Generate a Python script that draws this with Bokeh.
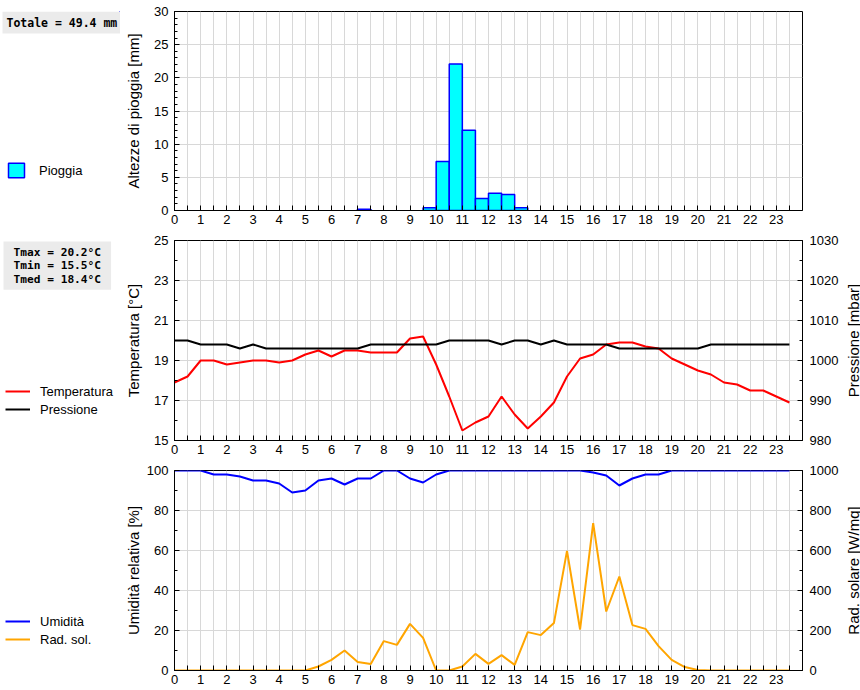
import math
from bokeh.plotting import figure
from bokeh.models import (Range1d, LinearAxis, FixedTicker, Label, Legend, LegendItem)
from bokeh.layouts import column, row
from bokeh.embed import file_html
from bokeh.resources import INLINE

# ---------------- data ----------------
hours = [0.0, 0.5, 1.0, 1.5, 2.0, 2.5, 3.0, 3.5, 4.0, 4.5, 5.0, 5.5,
         6.0, 6.5, 7.0, 7.5, 8.0, 8.5, 9.0, 9.5, 10.0, 10.5, 11.0, 11.5,
         12.0, 12.5, 13.0, 13.5, 14.0, 14.5, 15.0, 15.5, 16.0, 16.5, 17.0, 17.5,
         18.0, 18.5, 19.0, 19.5, 20.0, 20.5, 21.0, 21.5, 22.0, 22.5, 23.0, 23.5]

rain_start = [7.0, 9.5, 10.0, 10.5, 11.0, 11.5, 12.0, 12.5, 13.0]
rain_mm = [0.2, 0.4, 7.4, 22.1, 12.1, 1.8, 2.6, 2.4, 0.4]

temperature = [17.9, 18.2, 19.0, 19.0, 18.8, 18.9, 19.0, 19.0, 18.9, 19.0, 19.3, 19.5,
               19.2, 19.5, 19.5, 19.4, 19.4, 19.4, 20.1, 20.2, 18.8, 17.2, 15.5, 15.9,
               16.2, 17.2, 16.3, 15.6, 16.2, 16.9, 18.2, 19.1, 19.3, 19.8, 19.9, 19.9,
               19.7, 19.6, 19.1, 18.8, 18.5, 18.3, 17.9, 17.8, 17.5, 17.5, 17.2, 16.9]

pressure = [1005, 1005, 1004, 1004, 1004, 1003, 1004, 1003, 1003, 1003, 1003, 1003,
            1003, 1003, 1003, 1004, 1004, 1004, 1004, 1004, 1004, 1005, 1005, 1005,
            1005, 1004, 1005, 1005, 1004, 1005, 1004, 1004, 1004, 1004, 1003, 1003,
            1003, 1003, 1003, 1003, 1003, 1004, 1004, 1004, 1004, 1004, 1004, 1004]

humidity = [100, 100, 100, 98, 98, 97, 95, 95, 93.5, 89, 90, 95,
            96, 93, 96, 96, 100, 100, 96, 94, 98, 100, 100, 100,
            100, 100, 100, 100, 100, 100, 100, 100, 99, 97.5, 92.5, 96,
            98, 98, 100, 100, 100, 100, 100, 100, 100, 100, 100, 100]

radiation = [0, 0, 0, 0, 0, 0, 0, 0, 0, 0, 0, 20,
             53, 100, 43, 32, 147, 128, 233, 163, 0, 0, 20, 83,
             33, 77, 28, 192, 177, 237, 598, 205, 737, 295, 470, 227,
             208, 122, 53, 17, 3, 0, 0, 0, 0, 0, 0, 0]

hour_ticks = list(range(24))
half_ticks = [h + 0.5 for h in range(24)]

rain_total_text = "Totale = 49.4 mm"
temp_stats_text = "Tmax = 20.2°C\nTmin = 15.5°C\nTmed = 18.4°C"

# ---------------- style ----------------
FONT = "Liberation Sans"
MONO = "DejaVu Sans Mono"
GRID = "#d8d8d8"
SIDE_W = 120
RIGHT_W = 20
FRAME_W = 628


def style_axis(ax, major, minor, minor_len=3, standoff=6, label_standoff=9):
    ax.ticker = FixedTicker(ticks=major, minor_ticks=minor)
    ax.axis_line_color = "black"
    ax.major_tick_line_color = "black"
    ax.minor_tick_line_color = "black"
    ax.major_tick_in = 5
    ax.major_tick_out = 0
    ax.minor_tick_in = minor_len
    ax.minor_tick_out = 0
    ax.major_label_text_font = FONT
    ax.major_label_text_font_size = "13px"
    ax.major_label_text_color = "black"
    ax.major_label_standoff = standoff
    ax.axis_label_text_font = FONT
    ax.axis_label_text_font_size = "15px"
    ax.axis_label_text_font_style = "normal"
    ax.axis_label_text_color = "black"
    ax.axis_label_standoff = label_standoff


def make_fig(ymin, ymax, top, frame_h, bottom, right):
    p = figure(frame_width=FRAME_W, frame_height=frame_h,
               x_range=Range1d(0, 24), y_range=Range1d(ymin, ymax),
               output_backend="svg", toolbar_location=None,
               min_border_left=174 - SIDE_W, min_border_right=right,
               min_border_top=top, min_border_bottom=bottom)
    p.outline_line_color = "black"
    p.outline_line_width = 1
    p.xgrid.grid_line_color = GRID
    p.xgrid.minor_grid_line_color = GRID
    p.ygrid.grid_line_color = GRID
    p.ygrid.minor_grid_line_color = None
    style_axis(p.xaxis[0], hour_ticks, half_ticks, minor_len=5, standoff=4)
    return p


def make_side(w, h):
    # blank panel holding the legend / info boxes; its data view is kept
    # away from the data so the key renderers themselves draw nothing
    s = figure(width=w, height=h, title=None,
               x_range=Range1d(-2, -1), y_range=Range1d(-2, -1),
               x_axis_type=None, y_axis_type=None,
               output_backend="svg", toolbar_location=None,
               min_border=0)
    s.outline_line_color = None
    s.xgrid.visible = False
    s.ygrid.visible = False
    return s


def make_legend(items, loc, gw, gh, standoff):
    return Legend(items=items, location=loc, orientation="vertical",
                  glyph_width=gw, glyph_height=gh, label_height=gh,
                  label_standoff=standoff, padding=0, margin=0, spacing=0,
                  border_line_color=None, background_fill_alpha=0,
                  label_text_font=FONT, label_text_font_size="13px",
                  label_text_color="black")


def stats_label(text, x, y, pad, size):
    return Label(x=x, y=y, x_units="screen", y_units="screen", text=text,
                 anchor="top_left", text_font=MONO, text_font_style="bold",
                 text_font_size=size, text_color="black", text_line_height=1.05,
                 background_fill_color="#ebebeb", padding=pad)


def axis_title(text, h, yc):
    r = make_side(RIGHT_W, h)
    r.add_layout(Label(x=11.5, y=yc, x_units="screen", y_units="screen", text=text,
                       angle=math.pi / 2, anchor="center", text_font=FONT,
                       text_font_size="15px", text_color="black"))
    return r


H1, H2, H3 = 230, 230, 229

# ---------------- panel 1: rain ----------------
p1 = make_fig(0, 30, 11, 199, 20, 58)
style_axis(p1.yaxis[0], [0, 5, 10, 15, 20, 25, 30], list(range(31)), standoff=6, label_standoff=9)
p1.yaxis[0].axis_label = "Altezze di pioggia [mm]"
p1.vbar(x=[s + 0.25 for s in rain_start], width=0.5, top=rain_mm, bottom=0,
        fill_color="#00ffff", line_color="#0000ff", line_width=1.5)

s1 = make_side(SIDE_W, H1)
k_bar = s1.vbar(x=[s + 0.25 for s in rain_start], width=0.5, top=rain_mm, bottom=0,
                fill_color="#00ffff", line_color="#0000ff", line_width=1.5)
s1.add_layout(make_legend([LegendItem(label="Pioggia", renderers=[k_bar])], (6, 31), 20, 18, 13))
s1.add_layout(stats_label(rain_total_text, 2, 199, 4, "11.5px"))

# ---------------- panel 2: temperature / pressure ----------------
p2 = make_fig(15, 25, 10, 200, 20, 38)
p2.extra_y_ranges = {"press": Range1d(980, 1030)}
style_axis(p2.yaxis[0], [15, 17, 19, 21, 23, 25], [16, 18, 20, 22, 24], standoff=6, label_standoff=9)
p2.yaxis[0].axis_label = "Temperatura [°C]"
ax_p = LinearAxis(y_range_name="press")
style_axis(ax_p, [980, 990, 1000, 1010, 1020, 1030], [985, 995, 1005, 1015, 1025], standoff=7)
p2.add_layout(ax_p, "right")
p2.line(hours, temperature, line_color="#ff0000", line_width=2)
p2.line(hours, pressure, line_color="black", line_width=2, y_range_name="press")

s2 = make_side(SIDE_W, H2)
k_t = s2.line(hours, temperature, line_color="#ff0000", line_width=2)
k_p = s2.line(hours, pressure, line_color="black", line_width=2)
s2.add_layout(make_legend([LegendItem(label="Temperatura", renderers=[k_t]),
                           LegendItem(label="Pressione", renderers=[k_p])], (5, 22), 25, 18, 10))
s2.add_layout(stats_label(temp_stats_text, 3, 199, dict(top=4, right=10, bottom=4, left=10), "11.2px"))
r2 = axis_title("Pressione [mbar]", H2, 100)

# ---------------- panel 3: humidity / radiation ----------------
p3 = make_fig(0, 100, 10, 200, 19, 38)
p3.extra_y_ranges = {"rad": Range1d(0, 1000)}
style_axis(p3.yaxis[0], [0, 20, 40, 60, 80, 100], [10, 30, 50, 70, 90], standoff=6, label_standoff=2)
p3.yaxis[0].axis_label = "Umidità relativa [%]"
ax_r = LinearAxis(y_range_name="rad")
style_axis(ax_r, [0, 200, 400, 600, 800, 1000], [100, 300, 500, 700, 900], standoff=7)
p3.add_layout(ax_r, "right")
p3.line(hours, humidity, line_color="#0000ff", line_width=2)
p3.line(hours, radiation, line_color="#ffa500", line_width=2, y_range_name="rad")

s3 = make_side(SIDE_W, H3)
k_h = s3.line(hours, humidity, line_color="#0000ff", line_width=2)
k_r = s3.line(hours, radiation, line_color="#ffa500", line_width=2)
s3.add_layout(make_legend([LegendItem(label="Umidità", renderers=[k_h]),
                           LegendItem(label="Rad. sol.", renderers=[k_r])], (5, 22), 25, 18, 10))
r3 = axis_title("Rad. solare [W/mq]", H3, 100)

layout = column(row(s1, p1, spacing=0),
                row(s2, p2, r2, spacing=0),
                row(s3, p3, r3, spacing=0), spacing=0)
open("out.html", "w").write(file_html(layout, INLINE))
